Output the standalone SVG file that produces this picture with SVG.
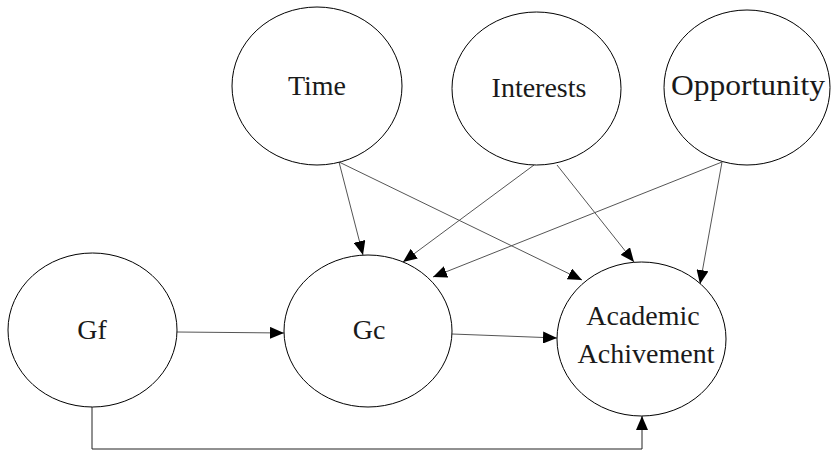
<svg xmlns="http://www.w3.org/2000/svg" width="831" height="461" viewBox="0 0 831 461">
<style>
.node ellipse{fill:#fff;stroke:#000;stroke-width:1}
.node text{font-family:"Liberation Serif","Times New Roman",serif;font-size:28px;fill:#1a1a1a;text-anchor:middle}
.edge{fill:none;stroke:#555;stroke-width:1}
</style>
<defs>
<marker id="ah" viewBox="0 0 14 12" refX="14" refY="6" markerWidth="14" markerHeight="12" markerUnits="userSpaceOnUse" orient="auto">
<path d="M0,0 L14,6 L0,12 Z" fill="#000"/>
</marker>
</defs>
<rect width="831" height="461" fill="#fff"/>
<g id="connectors">
<line class="edge" x1="177" y1="332" x2="284" y2="333" marker-end="url(#ah)"/>
<line class="edge" x1="452" y1="334" x2="557" y2="338" marker-end="url(#ah)"/>
<line class="edge" x1="339" y1="162" x2="363" y2="255" marker-end="url(#ah)"/>
<line class="edge" x1="339" y1="162" x2="582" y2="280" marker-end="url(#ah)"/>
<line class="edge" x1="534" y1="165" x2="403" y2="262" marker-end="url(#ah)"/>
<line class="edge" x1="557" y1="165" x2="634" y2="262" marker-end="url(#ah)"/>
<line class="edge" x1="722" y1="162" x2="433" y2="277" marker-end="url(#ah)"/>
<line class="edge" x1="722" y1="162" x2="700" y2="284" marker-end="url(#ah)"/>
<polyline class="edge" points="92,407 92,449 642,449 642,416" style="stroke:#222" marker-end="url(#ah)"/>
</g>
<g id="time" class="node"><ellipse cx="317" cy="86" rx="85" ry="79"/><text x="317" y="95">Time</text></g>
<g id="interests" class="node"><ellipse cx="536.5" cy="88.5" rx="84.5" ry="76.5"/><text x="539" y="97">Interests</text></g>
<g id="opportunity" class="node"><ellipse cx="747" cy="87.5" rx="83" ry="77.5"/><text x="748" y="95" style="font-size:30px" textLength="154" lengthAdjust="spacingAndGlyphs">Opportunity</text></g>
<g id="gf" class="node"><ellipse cx="92.5" cy="330" rx="84.5" ry="77"/><text x="92" y="339">Gf</text></g>
<g id="gc" class="node"><ellipse cx="368" cy="331" rx="84" ry="76"/><text x="369" y="339">Gc</text></g>
<g id="academic" class="node"><ellipse cx="641.5" cy="339" rx="84.5" ry="77"/><text x="643" y="325">Academic</text><text x="646" y="363">Achivement</text></g>
</svg>
